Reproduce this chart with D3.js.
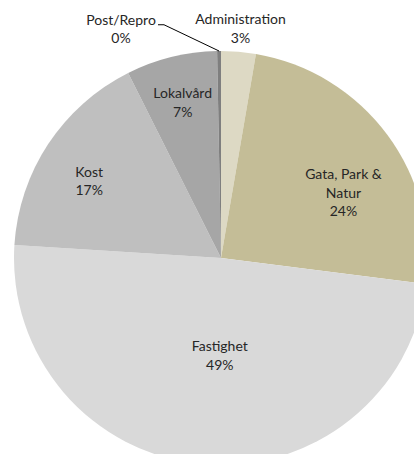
<!DOCTYPE html>
<html>
<head>
<meta charset="utf-8">
<script src="https://cdn.jsdelivr.net/npm/d3@7"></script>
<style>
  html, body { margin: 0; padding: 0; background: #fff; }
  svg { display: block; }
  text { font-family: Lato, "Open Sans", sans-serif; font-size: 14px; fill: #262626; }
</style>
</head>
<body>
<div id="chart"></div>
<script>
// ---- data ----
const categories = ["Administration", "Gata, Park & Natur", "Fastighet", "Kost", "Lokalvård", "Post/Repro"];
const values = [2.7, 24.3, 49.0, 16.6, 7.1, 0.3];
const percentLabels = ["3%", "24%", "49%", "17%", "7%", "0%"];
const labelLines = [["Administration"], ["Gata, Park &", "Natur"], ["Fastighet"], ["Kost"], ["Lokalvård"], ["Post/Repro"]];
const colors = ["#DDD9C4", "#C4BD97", "#D9D9D9", "#BFBFBF", "#A6A6A6", "#7F7F7F"];

// ---- layout ----
const W = 414, H = 454;
const cx = 221, cy = 258, R = 207;
// label placement: radius and small x/y nudge per slice
const labelPlacement = [
  { r: 230, dx: 0, dy: 0 },
  { r: 140, dx: 10, dy: 18 },
  { r: 98, dx: 8, dy: 0 },
  { r: 158, dx: 0, dy: 10 },
  { r: 160, dx: 0, dy: 0 },
  { r: 0, dx: 0, dy: 0 }
];
const lineH = 18.5;

const svg = d3.select("#chart").append("svg").attr("width", W).attr("height", H);
const g = svg.append("g").attr("transform", `translate(${cx},${cy})`);

const data = categories.map((c, i) => ({ name: c, value: values[i], i }));
const pie = d3.pie().value(d => d.value).sort(null);
const arcs = pie(data);
const arc = d3.arc().innerRadius(0).outerRadius(R);

g.selectAll("path.slice").data(arcs).enter().append("path")
  .attr("class", "slice")
  .attr("d", arc)
  .attr("fill", d => colors[d.data.i]);

function drawLabel(x, y, lines, pct) {
  const all = lines.concat([pct]);
  const n = all.length;
  const t = g.append("text").attr("text-anchor", "middle");
  all.forEach((s, k) => {
    t.append("tspan").attr("x", x).attr("y", y + (k - (n - 1) / 2) * lineH).attr("dy", "0.35em").text(s);
  });
}

arcs.forEach((a, i) => {
  if (categories[i] === "Post/Repro") return;
  const p = labelPlacement[i];
  const la = d3.arc().innerRadius(p.r).outerRadius(p.r);
  const [x, y] = la.centroid(a);
  drawLabel(x + p.dx, y + p.dy, labelLines[i], percentLabels[i]);
});

// Post/Repro: outside label with leader line
{
  const i = categories.indexOf("Post/Repro");
  const a = arcs[i];
  const mid = (a.startAngle + a.endAngle) / 2;
  const ex = Math.sin(mid) * R, ey = -Math.cos(mid) * R;
  const lx = 121 - cx, ly = 29 - cy; // label block centre
  drawLabel(lx, ly, labelLines[i], percentLabels[i]);
  const tx = lx + 37, tyL = ly - lineH / 2 + 5;
  g.append("path")
    .attr("d", `M${tx},${tyL} L${tx + 6},${tyL} L${ex},${ey}`)
    .attr("fill", "none").attr("stroke", "#000").attr("stroke-width", 1);
}
</script>
</body>
</html>
